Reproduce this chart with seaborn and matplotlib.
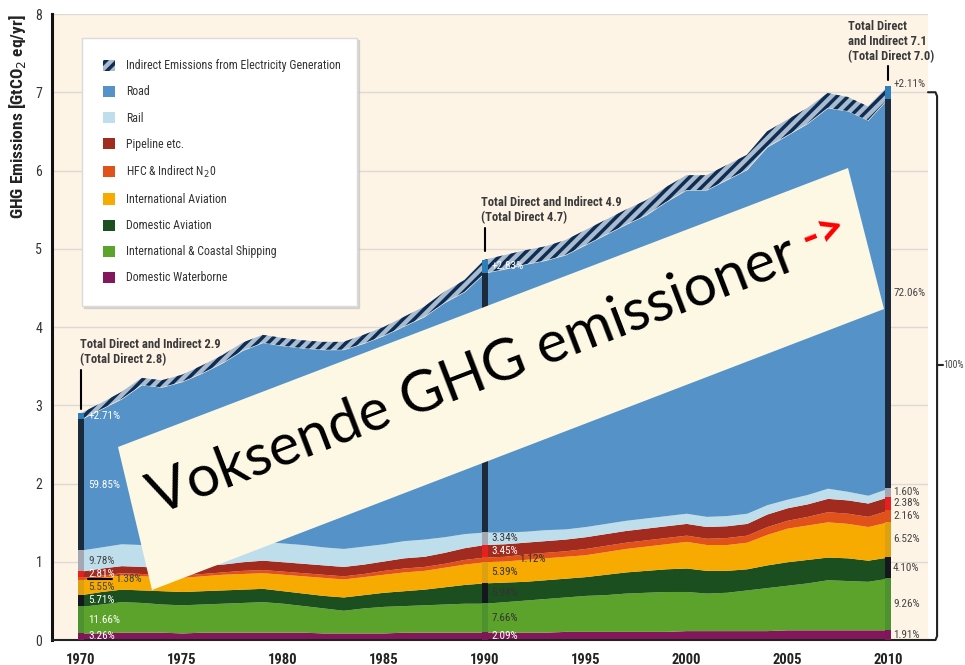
import matplotlib
matplotlib.use("Agg")
import matplotlib.pyplot as plt
import matplotlib.transforms as mtransforms
from matplotlib import font_manager as fm
from matplotlib.patches import Polygon, Patch
import numpy as np
import seaborn as sns

# --- data (GtCO2eq/yr) ---
years = list(range(1970, 2011))
waterborne = [0.09, 0.09, 0.10, 0.10, 0.10, 0.09, 0.10, 0.10, 0.10, 0.10,
              0.10, 0.10, 0.09, 0.09, 0.09, 0.09, 0.10, 0.10, 0.10, 0.10,
              0.10, 0.10, 0.10, 0.10, 0.11, 0.11, 0.11, 0.11, 0.11, 0.11,
              0.12, 0.12, 0.12, 0.12, 0.12, 0.13, 0.13, 0.13, 0.13, 0.13, 0.13]
shipping = [0.34, 0.37, 0.39, 0.38, 0.36, 0.36, 0.36, 0.37, 0.38, 0.39,
            0.37, 0.34, 0.32, 0.29, 0.32, 0.34, 0.34, 0.35, 0.36, 0.37,
            0.37, 0.39, 0.41, 0.43, 0.44, 0.46, 0.47, 0.49, 0.50, 0.51,
            0.50, 0.48, 0.49, 0.52, 0.55, 0.57, 0.60, 0.64, 0.63, 0.62, 0.66]
dom_aviation = [0.15, 0.16, 0.16, 0.16, 0.17, 0.17, 0.17, 0.17, 0.17, 0.17,
                0.16, 0.16, 0.16, 0.17, 0.17, 0.18, 0.19, 0.20, 0.22, 0.24,
                0.26, 0.25, 0.24, 0.24, 0.24, 0.24, 0.26, 0.27, 0.28, 0.29,
                0.30, 0.29, 0.28, 0.27, 0.29, 0.30, 0.30, 0.29, 0.29, 0.27, 0.27]
intl_aviation = [0.19, 0.18, 0.18, 0.18, 0.18, 0.18, 0.19, 0.20, 0.20, 0.20,
                 0.21, 0.22, 0.23, 0.23, 0.23, 0.23, 0.24, 0.24, 0.25, 0.26,
                 0.27, 0.27, 0.28, 0.28, 0.28, 0.28, 0.29, 0.30, 0.31, 0.32,
                 0.34, 0.33, 0.33, 0.34, 0.39, 0.43, 0.44, 0.45, 0.44, 0.43, 0.45]
hfc = [0.03, 0.03, 0.03, 0.03, 0.03, 0.03, 0.03, 0.03, 0.04, 0.04,
       0.04, 0.04, 0.04, 0.04, 0.04, 0.05, 0.05, 0.05, 0.05, 0.06,
       0.06, 0.06, 0.07, 0.07, 0.07, 0.08, 0.08, 0.08, 0.08, 0.08,
       0.08, 0.08, 0.09, 0.09, 0.10, 0.10, 0.11, 0.13, 0.13, 0.13, 0.15]
pipeline = [0.08, 0.09, 0.09, 0.09, 0.09, 0.09, 0.10, 0.10, 0.11, 0.12,
            0.12, 0.12, 0.12, 0.12, 0.12, 0.12, 0.13, 0.13, 0.14, 0.15,
            0.16, 0.16, 0.15, 0.15, 0.15, 0.15, 0.15, 0.15, 0.15, 0.15,
            0.15, 0.15, 0.15, 0.15, 0.16, 0.16, 0.16, 0.17, 0.17, 0.17, 0.17]
rail = [0.27, 0.27, 0.28, 0.28, 0.27, 0.27, 0.26, 0.25, 0.25, 0.24,
        0.24, 0.24, 0.23, 0.23, 0.23, 0.22, 0.22, 0.22, 0.20, 0.18,
        0.16, 0.15, 0.14, 0.14, 0.13, 0.13, 0.13, 0.13, 0.13, 0.13,
        0.13, 0.13, 0.13, 0.13, 0.12, 0.11, 0.12, 0.13, 0.11, 0.10, 0.11]
road = [1.67, 1.76, 1.85, 2.04, 2.03, 2.11, 2.20, 2.32, 2.45, 2.54,
        2.52, 2.51, 2.52, 2.54, 2.59, 2.66, 2.74, 2.84, 2.99, 3.09,
        3.31, 3.36, 3.41, 3.44, 3.50, 3.60, 3.69, 3.78, 3.87, 4.01,
        4.13, 4.17, 4.29, 4.39, 4.57, 4.65, 4.74, 4.86, 4.86, 4.79, 4.98]
indirect = [0.08, 0.08, 0.09, 0.09, 0.09, 0.09, 0.10, 0.10, 0.10, 0.10,
            0.10, 0.10, 0.10, 0.10, 0.11, 0.11, 0.12, 0.13, 0.14, 0.15,
            0.17, 0.18, 0.18, 0.18, 0.19, 0.19, 0.19, 0.19, 0.19, 0.19,
            0.19, 0.19, 0.19, 0.19, 0.20, 0.20, 0.20, 0.19, 0.18, 0.18, 0.16]

# shares printed next to the 1970 / 1990 / 2010 bars (bottom layer first, indirect last)
share_years = [1970, 1990, 2010]
shares = {
    1970: ["3.26%", "11.66%", "5.71%", "5.55%", "1.38%", "2.81%", "9.78%", "59.85%", "+2.71%"],
    1990: ["2.09%", "7.66%", "5.94%", "5.39%", "1.12%", "3.45%", "3.34%", "71.01%", "+2.83%"],
    2010: ["1.91%", "9.26%", "4.10%", "6.52%", "2.16%", "2.38%", "1.60%", "72.06%", "+2.11%"],
}
totals = {1970: ("2.9", "2.8"), 1990: ("4.9", "4.7"), 2010: ("7.1", "7.0")}

layers = [waterborne, shipping, dom_aviation, intl_aviation, hfc, pipeline, rail, road]
names = ["Domestic Waterborne", "International & Coastal Shipping", "Domestic Aviation",
         "International Aviation", "HFC & Indirect N$_2$0", "Pipeline etc.", "Rail", "Road"]
colors = ["#84175B", "#5CA32B", "#1B4F1F", "#F7AA00", "#E1521B", "#A22B1F", "#BFDEEC", "#5592C8"]
bar_colors = ["#7C1856", "#4E9230", "#14181E", "#DDA010", "#E1521B", "#E62020", "#A3A8B2", "#1B2B3B"]

sns.set_style("white")

# a narrow face for the labels if one is installed
fonts = fm.fontManager.ttflist
narrow = None
for cand in ["Liberation Sans Narrow", "Roboto Condensed", "Open Sans Condensed"]:
    if any(f.name == cand for f in fonts):
        narrow = cand
        break
if narrow is None and any(f.name == "DejaVu Sans" and "condensed" in str(f.stretch) for f in fonts):
    plt.rcParams['font.stretch'] = 'condensed'
    narrow = "DejaVu Sans"
if narrow is None:
    narrow = "Liberation Sans"
    scale = 0.88
else:
    scale = 1.0
plt.rcParams['font.family'] = [narrow, 'DejaVu Sans']
plt.rcParams['hatch.linewidth'] = 2.5

fig, ax = plt.subplots(figsize=(9.65, 6.65), dpi=100)
fig.subplots_adjust(left=52 / 965, right=928 / 965, bottom=25 / 665, top=651 / 665)
ax.set_facecolor("#FDF4E6")

ax.stackplot(years, *layers, colors=colors, linewidth=0, zorder=2)
direct = np.sum(np.array(layers), axis=0)
ax.fill_between(years, direct, direct + np.array(indirect), facecolor="#A9BCCF",
                edgecolor="#0F2D52", hatch="///", linewidth=0, zorder=2)

ax.set_xlim(1968.56, 2011.98)
ax.set_ylim(0, 8)
ax.set_xticks(range(1970, 2011, 5))
ax.set_yticks(range(0, 9))
ax.yaxis.grid(True, color="#DEDAD2", lw=1)
ax.set_axisbelow(True)
ax.tick_params(axis="x", direction="out", length=5, width=1.2, color="#222",
               labelsize=10.5 * scale, pad=4, labelcolor="#222")
ax.tick_params(axis="y", length=0, labelsize=10 * scale, pad=7, labelcolor="#333")
for lab in ax.get_xticklabels():
    lab.set_fontweight("bold")
ax.set_ylabel("GHG Emissions [GtCO$_2$ eq/yr]", fontsize=12.5 * scale, fontweight="bold",
              labelpad=5, color="#222", loc="top")
sns.despine(ax=ax, top=True, right=True)
ax.spines["left"].set_linewidth(2.2)
ax.spines["left"].set_color("#111")
ax.spines["bottom"].set_linewidth(1.5)
ax.spines["bottom"].set_color("#222")

# bars and share labels at 1970, 1990, 2010
idx = {y: i for i, y in enumerate(years)}
for yr in share_years:
    i = idx[yr]
    vals = [layer[i] for layer in layers] + [indirect[i]]
    cols = bar_colors + ["#2E7EBA"]
    bottoms = np.concatenate([[0], np.cumsum(vals)[:-1]])
    ax.bar([yr] * len(vals), vals, bottom=bottoms, width=0.3, color=cols, linewidth=0, zorder=3)
    for k, (v, b, txt) in enumerate(zip(vals, bottoms, shares[yr])):
        ymid = b + v / 2
        if yr == 2010:
            x, c = 2010.25, "#444444"
            if k == 8:
                ymid = b + v + 0.03
        else:
            x = yr + 0.35
            if yr == 1970:
                c = "#444444" if k in (3, 4, 6) else "white"
            else:
                c = "white" if k in (0, 5, 7, 8) else "#333333"
        if k == 4 and yr != 2010:
            x = yr + 1.7
            if yr == 1970:
                ax.plot([yr + 0.35, yr + 1.55], [ymid, ymid], color="black", lw=1.5, zorder=4)
        ax.text(x, ymid, txt, fontsize=8 * scale, color=c, va="center", ha="left", zorder=5)

# total annotations
ann = dict(fontsize=9 * scale, fontweight="bold", color="#3A3A3A", va="top", ha="left",
           linespacing=1.2, zorder=5)
ax.text(1969.95, 3.86, "Total Direct and Indirect %s\n(Total Direct %s)" % totals[1970], **ann)
ax.plot([1970, 1970], [2.95, 3.45], color="black", lw=1.5)
ax.text(1989.8, 5.67, "Total Direct and Indirect %s\n(Total Direct %s)" % totals[1990], **ann)
ax.plot([1990, 1990], [4.97, 5.27], color="black", lw=1.5)
ax.text(2008.0, 7.92, "Total Direct\nand Indirect %s\n(Total Direct %s)" % totals[2010],
        clip_on=False, **ann)
ax.plot([2010, 2010], [7.16, 7.34], color="black", lw=1.5)

# bracket on the right
ax.plot([2011.98, 2012.35, 2012.43, 2012.43, 2012.35, 2011.98],
        [7.0, 7.0, 6.95, 0.05, 0.0, 0.0], color="#222", lw=1.5, clip_on=False)
ax.plot([2012.43, 2012.7], [3.51, 3.51], color="#222", lw=1.5, clip_on=False)
ax.text(2012.72, 3.51, "100%", fontsize=7 * scale, color="#444", va="center", ha="left",
        clip_on=False)

# legend
handles = [Patch(facecolor="#A9BCCF", edgecolor="#0F2D52", hatch="///", lw=0,
                 label="Indirect Emissions from Electricity Generation")]
for n, c in zip(names[::-1], colors[::-1]):
    handles.append(Patch(facecolor=c, lw=0, label=n))
leg = ax.legend(handles=handles, loc="upper left", bbox_to_anchor=(0.034, 0.962, 0.314, 0.0),
                mode="expand", borderaxespad=0, fontsize=8.6 * scale, labelspacing=1.1,
                handlelength=1.0, handleheight=1.05, handletextpad=0.9, borderpad=1.8,
                frameon=True, fancybox=False,
                shadow={"color": "#BBBBBB", "alpha": 0.5, "ox": 1.5, "oy": -1.5},
                labelcolor="#333333")
leg.get_frame().set_edgecolor("#DADADA")
leg.get_frame().set_linewidth(1.0)
leg.set_zorder(6)

# overlay banner "Voksende GHG emissioner ->" (pixel corners, y from the bottom)
corners = [(118, 665 - 447), (848, 665 - 168), (884, 665 - 309), (152, 665 - 590)]
banner = Polygon(corners, closed=True, transform=mtransforms.IdentityTransform(),
                 facecolor="#FDF8E4", edgecolor="none", zorder=10)
fig.add_artist(banner)
fig.text(473 / 965, (665 - 376) / 665, "Voksende GHG emissioner", fontsize=42, family="Lato",
         color="black", rotation=21, rotation_mode="anchor", ha="center", va="center", zorder=11)
fig.text(823 / 965, (665 - 233) / 665, "->", fontsize=34, family="Lato", fontweight="bold",
         color="#FF0000", rotation=21, rotation_mode="anchor", ha="center", va="center", zorder=11)

fig.savefig("out.png", dpi=100, facecolor="white")
